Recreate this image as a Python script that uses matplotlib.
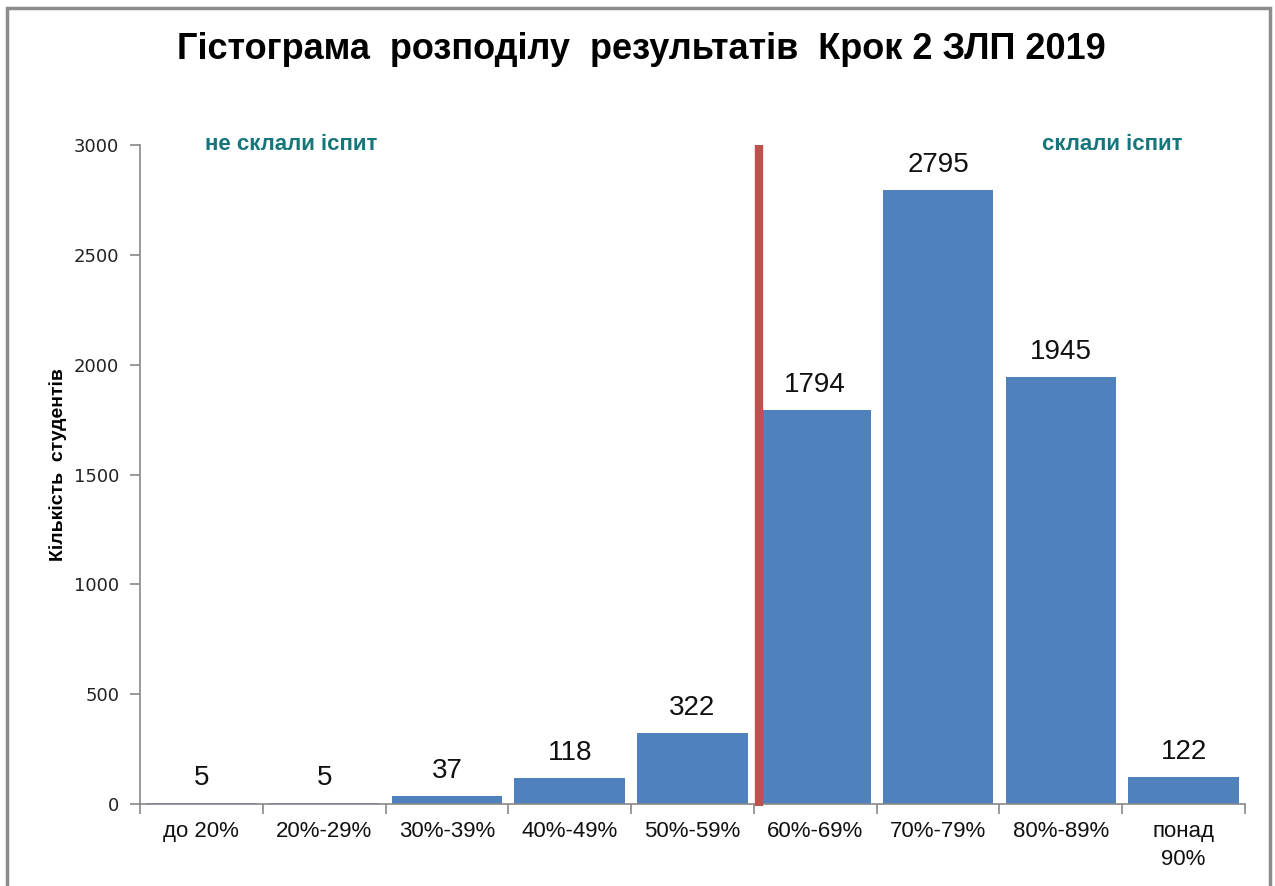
import matplotlib.pyplot as plt
from matplotlib.patches import Rectangle

categories = ['до 20%', '20%-29%', '30%-39%', '40%-49%', '50%-59%',
              '60%-69%', '70%-79%', '80%-89%', 'понад\n90%']
counts = [5, 5, 37, 118, 322, 1794, 2795, 1945, 122]
pass_line = 4.54
yticks = [0, 500, 1000, 1500, 2000, 2500, 3000]

plt.rcParams['font.family'] = ['Liberation Sans', 'DejaVu Sans']

fig = plt.figure(figsize=(12.75, 8.86), dpi=100)
ax = fig.add_axes([140/1275, 82/886, 1105/1275, 659/886])

x = list(range(len(counts)))
ax.bar(x, counts, width=0.9, color='#4F81BD', zorder=2)
for xi, c in zip(x, counts):
    ax.text(xi, c + 55, str(c), ha='center', va='bottom', fontsize=20, color='#111111')

ax.plot([pass_line, pass_line], [-8, 3000], color='#C0504D', lw=6,
        solid_capstyle='butt', clip_on=False, zorder=3)

ax.set_xlim(-0.5, len(counts) - 0.5)
ax.set_ylim(0, 3000)
ax.set_yticks(yticks)
ax.set_yticklabels([str(v) for v in yticks], family='DejaVu Sans', fontsize=13, color='#222222')
ax.set_xticks(x)
ax.set_xticklabels(categories, fontsize=16, color='#111111', linespacing=1.45, va='top')
ax.set_xticks([i - 0.5 for i in range(len(counts) + 1)], minor=True)
ax.tick_params(axis='x', which='major', length=0, pad=12)
ax.tick_params(axis='x', which='minor', length=7, color='#888888', width=1.2)
ax.tick_params(axis='y', length=7, color='#888888', width=1.2, pad=8)

for s in ['top', 'right']:
    ax.spines[s].set_visible(False)
for s in ['left', 'bottom']:
    ax.spines[s].set_color('#888888')
    ax.spines[s].set_linewidth(1.2)

ax.set_ylabel('Кількість  студентів', fontsize=14, fontweight='bold',
              family=['Liberation Sans Narrow', 'Liberation Sans'], labelpad=6)
ax.yaxis.set_label_coords(-0.066, 0.515)

ax.text(0.03, 3000, 'не склали іспит', fontsize=16, fontweight='bold',
        color='#17767A', ha='left', va='center')
ax.text(6.85, 3000, 'склали іспит', fontsize=16, fontweight='bold',
        color='#17767A', ha='left', va='center')

fig.text(0.503, 0.944, 'Гістограма  розподілу  результатів  Крок 2 ЗЛП 2019',
         ha='center', va='center', fontsize=26, fontweight='bold')

# gray frame around the chart area (bottom edge is cut off in the original)
fig.patches.append(Rectangle((7/1275, -0.05), 1263/1275, 1.05 - 8/886, transform=fig.transFigure,
                             fill=False, edgecolor='#8C8C8C', lw=2.5))

fig.savefig('out.png', dpi=100)
